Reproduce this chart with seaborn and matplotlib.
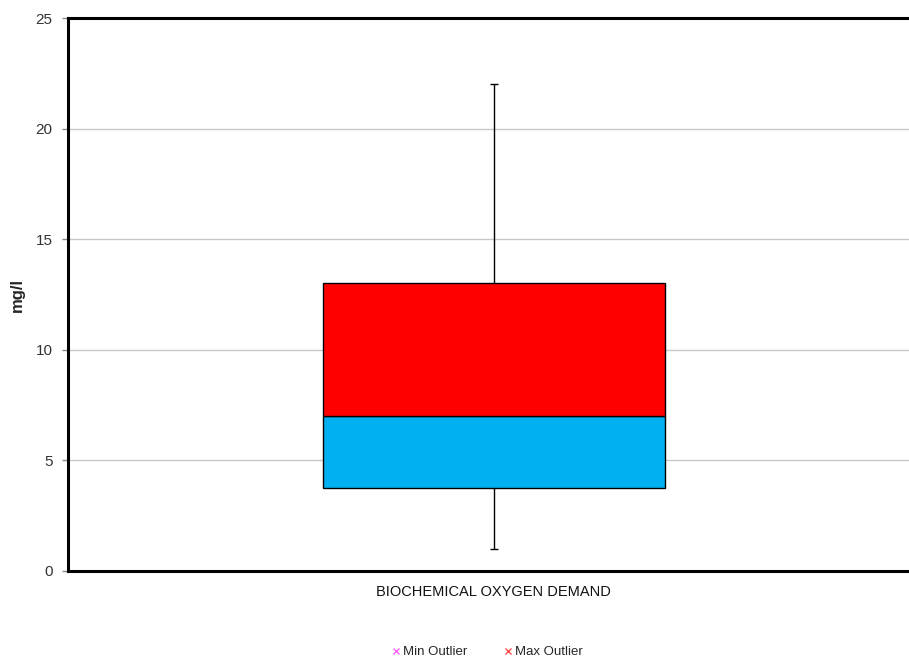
import matplotlib
matplotlib.use("Agg")
import matplotlib.pyplot as plt
import seaborn as sns
import pandas as pd
from matplotlib.lines import Line2D

categories = ["BIOCHEMICAL OXYGEN DEMAND"]
whisker_min = [1.0]
q1 = [3.75]
median = [7.0]
q3 = [13.0]
whisker_max = [22.0]
y_ticks = [0, 5, 10, 15, 20, 25]
legend_labels = ["Min Outlier", "Max Outlier"]

sns.set_theme(style="white")
plt.rcParams['font.family'] = ['Liberation Sans', 'DejaVu Sans']

lower = pd.DataFrame({"cat": categories, "h": [m - a for m, a in zip(median, q1)], "b": q1})
upper = pd.DataFrame({"cat": categories, "h": [c - m for c, m in zip(q3, median)], "b": median})

fig = plt.figure(figsize=(9.09, 6.65), dpi=100)
ax = fig.add_axes([68/909, 1 - 571/665, 1 - 68/909, (571 - 18)/665])

for y in [5, 10, 15, 20]:
    ax.axhline(y, color="#c8c8c8", lw=1, zorder=0)

# whiskers
for i, c in enumerate(categories):
    ax.vlines(i, whisker_min[i], q1[i], color="black", lw=1, zorder=1)
    ax.vlines(i, q3[i], whisker_max[i], color="black", lw=1, zorder=1)
    ax.hlines([whisker_min[i], whisker_max[i]], i - 0.005, i + 0.005, color="black", lw=1, zorder=1)

sns.barplot(data=lower, x="cat", y="h", bottom=lower["b"].values, color="#00B0F0",
            saturation=1, width=0.4, edgecolor="black", linewidth=1, ax=ax, zorder=2)
sns.barplot(data=upper, x="cat", y="h", bottom=upper["b"].values, color="#FF0000",
            saturation=1, width=0.4, edgecolor="black", linewidth=1, ax=ax, zorder=2)

ax.set_xlim(-0.498, 0.4856)
ax.set_ylim(0, 25)
ax.set_yticks(y_ticks)
ax.set_yticklabels([str(t) for t in y_ticks], fontsize=11, color="#333333")
ax.tick_params(axis="y", left=True, length=4, width=1, color="#888888", pad=7)
ax.tick_params(axis="x", bottom=False, labelsize=10.5, pad=4, labelcolor="#111111")
ax.set_xlabel("")
ax.set_ylabel("mg/l", fontsize=12, fontweight="bold")
ax.yaxis.set_label_coords((25 - 68) / 841, 0.5)

for s in ["left", "bottom", "top"]:
    ax.spines[s].set_visible(True)
    ax.spines[s].set_linewidth(2.2)
    ax.spines[s].set_color("black")
ax.spines["right"].set_visible(False)

handles = [
    Line2D([], [], marker="x", linestyle="none", color="#FF66FF", markersize=4, markeredgewidth=1),
    Line2D([], [], marker="x", linestyle="none", color="#FF5050", markersize=4, markeredgewidth=1),
]
fig.legend(handles, legend_labels, loc="center", bbox_to_anchor=(486/909, 1 - 652/665),
           ncol=2, frameon=False, fontsize=9.5, handletextpad=0.0, columnspacing=2.6,
           handlelength=1.0)

fig.savefig("out.png", dpi=100)
